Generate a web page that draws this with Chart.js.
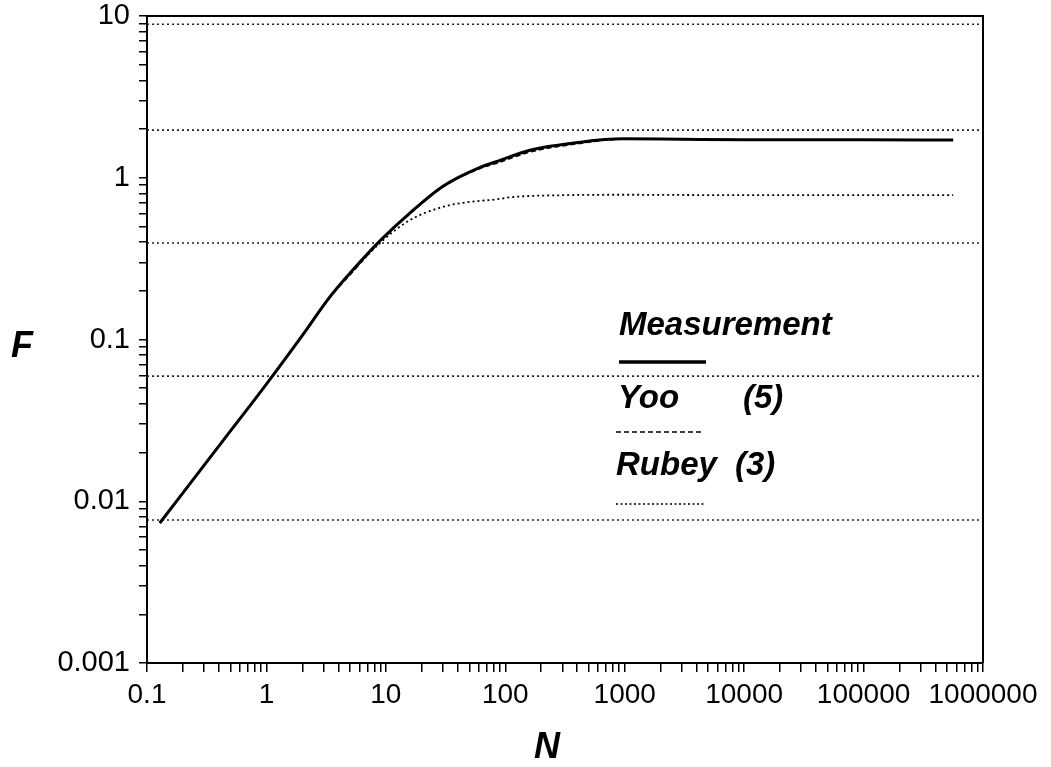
<!DOCTYPE html>
<html>
<head>
<meta charset="utf-8">
<script src="https://cdn.jsdelivr.net/npm/chart.js@4/dist/chart.umd.min.js"></script>
<style>
  html, body { margin: 0; padding: 0; background: #ffffff; }
  #wrap { position: relative; width: 1051px; height: 767px; }
</style>
</head>
<body>
<div id="wrap"><canvas id="c" width="1051" height="767"></canvas></div>
<script>
// ---- data ----
const nMeasure = [0.128, 0.5, 1, 2, 3.41, 5.35, 8.93, 15.96, 30.3, 61.5, 84.9, 161, 424, 970, 3000, 10000, 100000, 563000];
const fMeasure = [0.00734, 0.0272, 0.053, 0.106, 0.184, 0.272, 0.408, 0.607, 0.89, 1.16, 1.26, 1.48, 1.66, 1.74, 1.73, 1.72, 1.72, 1.71];

const nYoo = [0.128, 0.5, 1, 2, 3.41, 5.35, 8.93, 15.96, 30.3, 61.5, 84.9, 161, 424, 970, 3000, 10000, 100000, 563000];
const fYoo = [0.00734, 0.0272, 0.053, 0.106, 0.182, 0.265, 0.402, 0.600, 0.88, 1.14, 1.23, 1.44, 1.63, 1.73, 1.73, 1.72, 1.72, 1.71];

const nRubey = [0.128, 0.5, 1, 2, 3.41, 5.35, 8.93, 15.96, 30.3, 44, 84.9, 116, 303, 1000, 10000, 100000, 563000];
const fRubey = [0.00734, 0.0272, 0.053, 0.106, 0.184, 0.268, 0.395, 0.548, 0.662, 0.70, 0.736, 0.76, 0.78, 0.785, 0.78, 0.78, 0.78];

const guideLevels = [8.9, 1.97, 0.395, 0.0594, 0.00766];

const xTickLabels = ['0.1', '1', '10', '100', '1000', '10000', '100000', '1000000'];
const yTickLabels = ['0.001', '0.01', '0.1', '1', '10'];

const legendNames = ['Measurement', 'Yoo', 'Rubey'];
const legendRefs = ['', '(5)', '(3)'];

const xMin = 0.1, xMax = 1000000, yMin = 0.001, yMax = 10;

function toPts(xs, ys) { return xs.map((x, i) => ({ x: x, y: ys[i] })); }

function logTicks(min, max) {
  const out = [];
  const k0 = Math.round(Math.log10(min)), k1 = Math.round(Math.log10(max));
  for (let k = k0; k <= k1; k++) {
    for (let m = 1; m <= 9; m++) {
      const v = m * Math.pow(10, k);
      if (v <= max * 1.0000001) out.push({ value: v });
    }
  }
  return out;
}

function labelFor(v, labels, min) {
  const lg = Math.log10(v);
  const r = Math.round(lg);
  if (Math.abs(lg - r) > 1e-6) return '';
  const idx = r - Math.round(Math.log10(min));
  return labels[idx] !== undefined ? labels[idx] : '';
}

const guideSets = guideLevels.map(y => ({
  data: [{ x: xMin, y: y }, { x: xMax, y: y }],
  borderColor: '#222',
  borderWidth: 1.6,
  borderDash: [2, 3],
  pointRadius: 0,
  fill: false,
  order: 10
}));

const FONT = '"Liberation Sans", Arial, Helvetica, sans-serif';

const overlay = {
  id: 'overlay',
  afterDraw(chart) {
    const ctx = chart.ctx;
    const a = chart.chartArea;
    ctx.save();
    // frame top/right
    ctx.strokeStyle = '#000';
    ctx.lineWidth = 2;
    ctx.beginPath();
    ctx.moveTo(a.left, a.top);
    ctx.lineTo(a.right, a.top);
    ctx.lineTo(a.right, a.bottom);
    ctx.stroke();

    // axis titles
    ctx.fillStyle = '#000';
    ctx.font = 'italic bold 36px ' + FONT;
    ctx.textBaseline = 'alphabetic';
    ctx.textAlign = 'left';
    ctx.fillText('F', 11, 357);
    ctx.textAlign = 'center';
    ctx.fillText('N', 547, 758);

    // legend
    ctx.textAlign = 'left';
    ctx.font = 'italic bold 33px ' + FONT;
    ctx.fillText(legendNames[0], 619, 335);
    ctx.fillText(legendNames[1], 618, 408);
    ctx.fillText(legendRefs[1], 743, 408);
    ctx.fillText(legendNames[2], 616, 475);
    ctx.fillText(legendRefs[2], 735, 475);

    ctx.strokeStyle = '#000';
    ctx.lineWidth = 3.5;
    ctx.setLineDash([]);
    ctx.beginPath(); ctx.moveTo(619, 362); ctx.lineTo(706, 362); ctx.stroke();
    ctx.lineWidth = 1.5;
    ctx.setLineDash([5, 3]);
    ctx.beginPath(); ctx.moveTo(616, 432); ctx.lineTo(704, 432); ctx.stroke();
    ctx.lineWidth = 1.6;
    ctx.setLineDash([2, 2.5]);
    ctx.beginPath(); ctx.moveTo(616, 504); ctx.lineTo(704, 504); ctx.stroke();
    ctx.restore();
  }
};

new Chart(document.getElementById('c'), {
  type: 'line',
  data: {
    datasets: [
      {
        label: 'Measurement',
        data: toPts(nMeasure, fMeasure),
        borderColor: '#000',
        borderWidth: 3,
        pointRadius: 0,
        cubicInterpolationMode: 'monotone',
        fill: false,
        order: 0
      },
      {
        label: 'Yoo (5)',
        data: toPts(nYoo, fYoo),
        borderColor: '#000',
        borderWidth: 1.5,
        borderDash: [5, 3],
        pointRadius: 0,
        cubicInterpolationMode: 'monotone',
        fill: false,
        order: 1
      },
      {
        label: 'Rubey (3)',
        data: toPts(nRubey, fRubey),
        borderColor: '#000',
        borderWidth: 1.8,
        borderDash: [2, 3],
        pointRadius: 0,
        cubicInterpolationMode: 'monotone',
        fill: false,
        order: 2
      },
      ...guideSets
    ]
  },
  options: {
    responsive: false,
    animation: false,
    events: [],
    layout: { padding: { left: 47, right: 68, top: 16, bottom: 44 } },
    plugins: { legend: { display: false }, tooltip: { enabled: false }, title: { display: false } },
    scales: {
      x: {
        type: 'logarithmic',
        min: xMin,
        max: xMax,
        afterBuildTicks(scale) { scale.ticks = logTicks(xMin, xMax); },
        afterFit(scale) { scale.height = 60; },
        ticks: {
          autoSkip: false,
          maxRotation: 0,
          minRotation: 0,
          padding: 6,
          color: '#000',
          font: { family: FONT, size: 28 },
          callback: (v) => labelFor(v, xTickLabels, xMin)
        },
        grid: { display: true, drawOnChartArea: false, drawTicks: true, tickLength: 9, color: '#000', lineWidth: 1.5 },
        border: { display: true, color: '#000', width: 2 }
      },
      y: {
        type: 'logarithmic',
        min: yMin,
        max: yMax,
        afterBuildTicks(scale) { scale.ticks = logTicks(yMin, yMax); },
        afterFit(scale) { scale.width = 100; scale.paddingTop = 0; scale.paddingBottom = 0; },
        ticks: {
          autoSkip: false,
          padding: 9,
          color: '#000',
          font: { family: FONT, size: 29 },
          callback: (v) => labelFor(v, yTickLabels, yMin)
        },
        grid: { display: true, drawOnChartArea: false, drawTicks: true, tickLength: 8, color: '#000', lineWidth: 1.5 },
        border: { display: true, color: '#000', width: 2 }
      }
    }
  },
  plugins: [overlay]
});
</script>
</body>
</html>
